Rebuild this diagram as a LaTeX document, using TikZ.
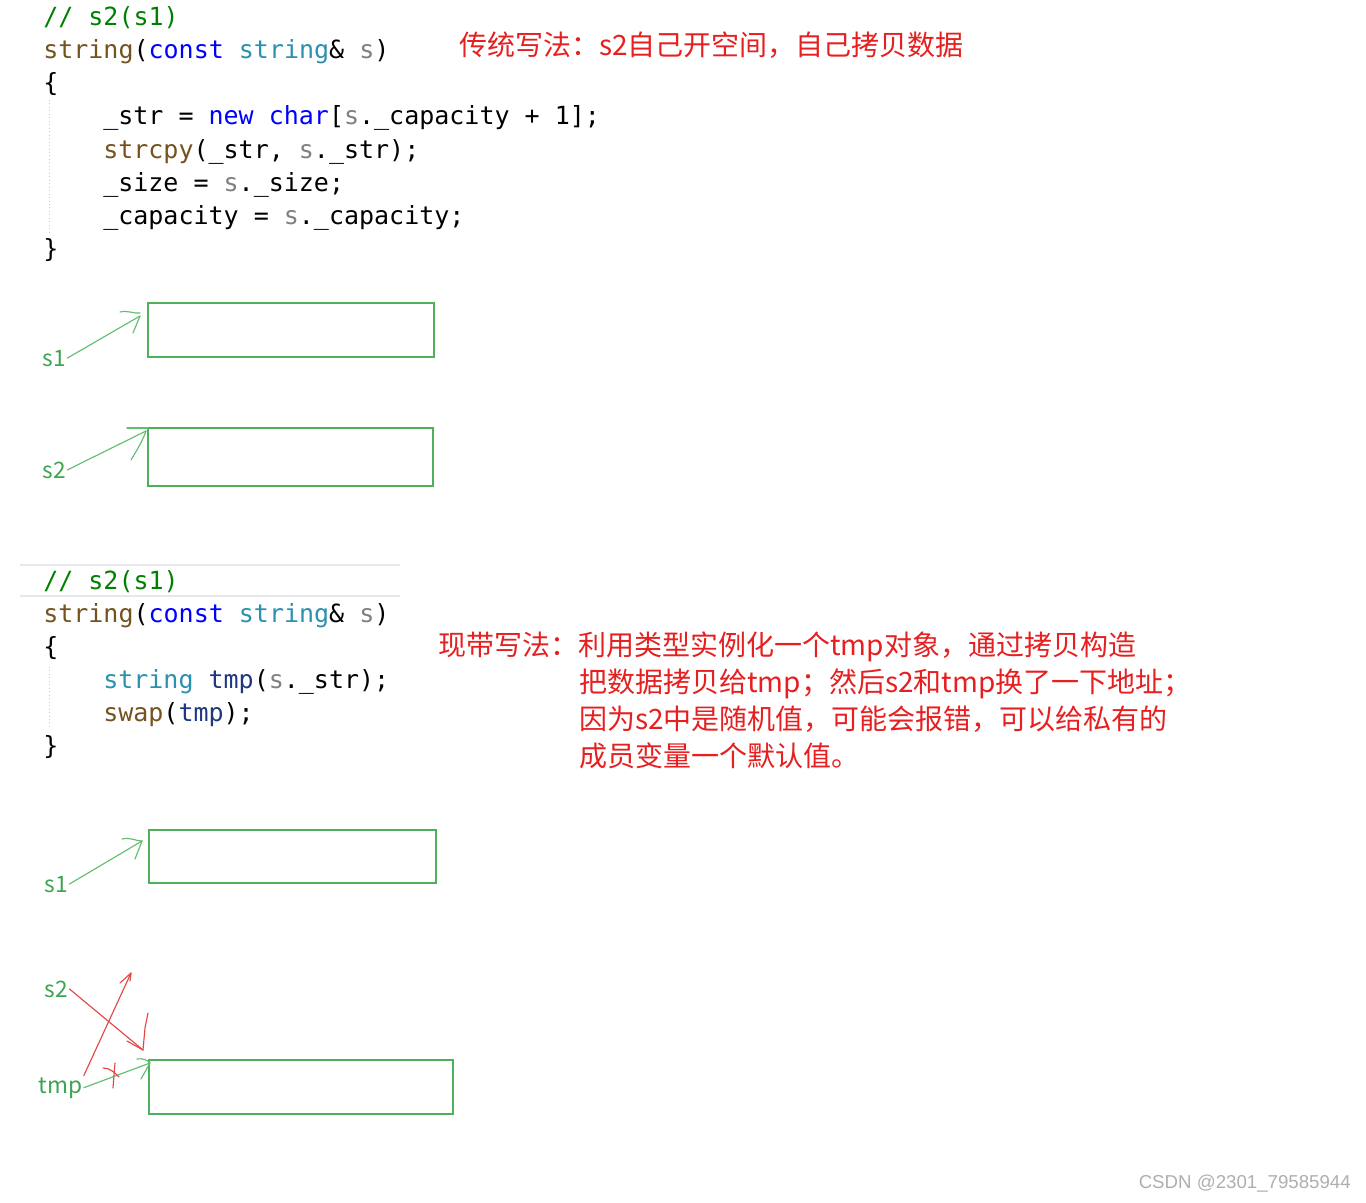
\documentclass[tikz,border=0pt]{standalone}
\usepackage{fontspec}
\newfontfamily\cjk{Noto Sans CJK SC}
\newfontfamily\codefont{DejaVu Sans Mono}
\newfontfamily\wmfont{Liberation Sans}
\usetikzlibrary{fit}
\definecolor{cmtC}{RGB}{0,128,0}
\definecolor{fnC}{RGB}{116,83,31}
\definecolor{kwC}{RGB}{0,0,255}
\definecolor{tyC}{RGB}{43,145,175}
\definecolor{parC}{RGB}{128,128,128}
\definecolor{varC}{RGB}{31,55,127}
\definecolor{noteRed}{RGB}{230,32,32}
\definecolor{boxGreen}{RGB}{76,176,92}
\definecolor{penGreen}{RGB}{96,190,110}
\definecolor{lblGreen}{RGB}{60,165,80}
\definecolor{penRed}{RGB}{228,70,70}
\definecolor{guideC}{RGB}{200,200,200}
\definecolor{sepC}{RGB}{232,232,236}
\definecolor{wmC}{RGB}{175,175,175}
\newcommand{\cCm}[1]{\textcolor{cmtC}{#1}}
\newcommand{\cFn}[1]{\textcolor{fnC}{#1}}
\newcommand{\cKw}[1]{\textcolor{kwC}{#1}}
\newcommand{\cTy}[1]{\textcolor{tyC}{#1}}
\newcommand{\cPar}[1]{\textcolor{parC}{#1}}
\newcommand{\cVar}[1]{\textcolor{varC}{#1}}
\begin{document}
\begin{tikzpicture}[x=0.75pt,y=-0.75pt,
  code/.style={anchor=base west, inner sep=0pt, text=black,
    font=\codefont\fontsize{18.75pt}{22pt}\selectfont},
  note/.style={anchor=base west, inner sep=0pt, text=noteRed,
    font=\cjk\fontsize{21pt}{25pt}\selectfont},
  lbl/.style={anchor=base west, inner sep=1pt, text=lblGreen,
    font=\cjk\fontsize{17pt}{20pt}\selectfont},
  box/.style={draw=boxGreen, line width=1pt, inner sep=0pt},
  gpen/.style={draw=penGreen, line width=0.85pt, line cap=round, line join=round},
  rpen/.style={draw=penRed, line width=0.85pt, line cap=round, line join=round},
  guide/.style={draw=guideC, line width=0.6pt, dotted},
  sep/.style={draw=sepC, line width=1.6pt}]
\useasboundingbox[fill=white] (0,0) rectangle (1366,1202);

% ---------- first code block ----------
\draw[guide] (49,100) -- (49,233);
\node[code] (c1) at (43,26) {\cCm{// s2(s1)}};
\node[code] (c2) at (43,59) {\cFn{string}(\cKw{const} \cTy{string}\& \cPar{s})};
\node[code] (c3) at (43,92) {\{};
\node[code] (c4) at (103,125) {\_str = \cKw{new} \cKw{char}[\cPar{s}.\_capacity + 1];};
\node[code] (c5) at (103,158) {\cFn{strcpy}(\_str, \cPar{s}.\_str);};
\node[code] (c6) at (103,191) {\_size = \cPar{s}.\_size;};
\node[code] (c7) at (103,224) {\_capacity = \cPar{s}.\_capacity;};
\node[code] (c8) at (43,257) {\}};

\node[note] (n1) at (459,56) {传统写法：s2自己开空间，自己拷贝数据};

% ---------- first diagram ----------
\node[box, fit={(148,303) (434,357)}] (b1) {};
\node[box, fit={(148,428) (433,486)}] (b2) {};
\node[lbl] (l1) at (41,366) {s1};
\node[lbl] (l2) at (41,478) {s2};
\coordinate (t1) at (140,316);
\coordinate (t2) at (146,431);
\draw[gpen] (l1.east) -- (t1);
\draw[gpen] (120,312) .. controls (128,310) and (134,314) .. (140,313);
\draw[gpen] (133,333) -- (t1);
\draw[gpen] (l2.east) -- (t2);
\draw[gpen] (127,428) -- (148,428);
\draw[gpen] (131,460) .. controls (137,450) and (143,440) .. (t2);

% ---------- second code block ----------
\draw[sep] (20,565) -- (400,565);
\draw[sep] (20,596) -- (400,596);
\draw[guide] (49,667) -- (49,726);
\node[code] (d1) at (43,589) {\cCm{// s2(s1)}};
\node[code] (d2) at (43,622) {\cFn{string}(\cKw{const} \cTy{string}\& \cPar{s})};
\node[code] (d3) at (43,655) {\{};
\node[code] (d4) at (103,688) {\cTy{string} \cVar{tmp}(\cPar{s}.\_str);};
\node[code] (d5) at (103,721) {\cFn{swap}(\cVar{tmp});};
\node[code] (d6) at (43,754) {\}};

\node[note] (m1) at (438,655) {现带写法：利用类型实例化一个tmp对象，通过拷贝构造};
\node[note] (m2) at (579,692) {把数据拷贝给tmp；然后s2和tmp换了一下地址；};
\node[note] (m3) at (579,729) {因为s2中是随机值，可能会报错，可以给私有的};
\node[note] (m4) at (579,766) {成员变量一个默认值。};

% ---------- second diagram ----------
\node[box, fit={(149,830) (436,883)}] (b3) {};
\node[box, fit={(149,1060) (453,1114)}] (b4) {};
\node[lbl] (l3) at (43,892) {s1};
\node[lbl] (l4) at (43,997) {s2};
\node[lbl] (l5) at (37,1093) {tmp};
\coordinate (t3) at (142,841);
\coordinate (t4) at (143,1050);
\coordinate (t5) at (131,973);
\coordinate (t6) at (150,1063);
% s1 -> box
\draw[gpen] (l3.east) -- (t3);
\draw[gpen] (122,839) .. controls (130,837) and (136,841) .. (t3);
\draw[gpen] (135,859) -- (t3);
% s2 -> tmp box (red)
\draw[rpen] (l4.east) -- (t4);
\draw[rpen] (127,1041) -- (t4);
\draw[rpen] (148,1013) -- (145,1028) -- (t4);
% tmp -> up (red)
\draw[rpen] (l5.north east) -- (t5);
\draw[rpen] (120,983) -- (t5) -- (130,981);
% tmp -> box (green, crossed out)
\draw[gpen] (l5.east) -- (t6);
\draw[gpen] (137,1059) .. controls (143,1058) and (147,1060) .. (t6);
\draw[gpen] (141,1079) -- (t6);
\draw[rpen] (115,1063) -- (113,1088);
\draw[rpen] (103,1068) .. controls (110,1068) and (114,1072) .. (119,1077);

% watermark
\node[anchor=east, inner sep=0pt, text=wmC, font=\wmfont\fontsize{14pt}{16pt}\selectfont] (wm) at (1351,1184) {CSDN @2301\_79585944};
\end{tikzpicture}
\end{document}
